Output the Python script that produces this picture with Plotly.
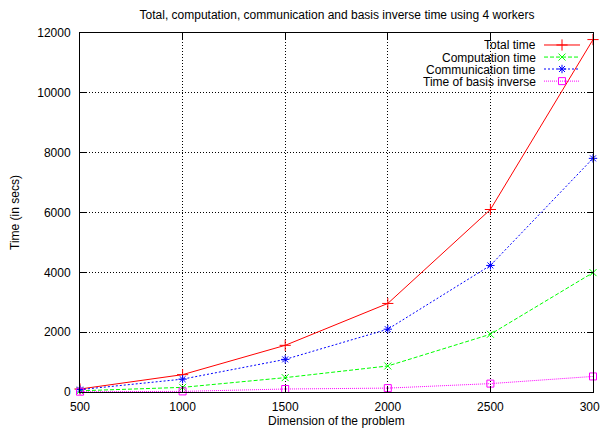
import plotly.graph_objects as go

dims = [500, 1000, 1500, 2000, 2500, 3000]
total_time = [100, 580, 1560, 2960, 6100, 11780]
computation_time = [40, 155, 480, 870, 1930, 3990]
communication_time = [80, 430, 1090, 2100, 4230, 7810]
basis_inverse_time = [10, 20, 100, 130, 280, 520]
y_ticks = [0, 2000, 4000, 6000, 8000, 10000, 12000]
y_tick_labels = ["0", "2000", "4000", "6000", "8000", "10000", "12000"]

names = ["Total time", "Computation time", "Communication time", "Time of basis inverse"]
colors = ["#ff0000", "#00ff00", "#0000ff", "#ff00ff"]
dashes = ["solid", "4px,2px", "2px,2px", "1px,1px"]
symbols = ["cross-thin", "x-thin", "asterisk-open", "square-open"]
sizes = [8, 7, 7, 7]
series = [total_time, computation_time, communication_time, basis_inverse_time]

FONT = "Liberation Sans, Arial, Helvetica, sans-serif"

fig = go.Figure()
for name, ys, c, d, s, sz in zip(names, series, colors, dashes, symbols, sizes):
    fig.add_trace(go.Scatter(
        x=dims, y=ys, mode="lines+markers", name=name,
        line=dict(color=c, width=1, dash=d),
        marker=dict(symbol=s, size=sz, color=c, line=dict(color=c, width=1)),
        cliponaxis=False, showlegend=False,
    ))

# gnuplot-style key (text left of sample) on an overlay axis in plot-fraction units
key_rows = [0.9666, 0.9330, 0.8997, 0.8660]
for name, c, d, s, sz, ky in zip(names, colors, dashes, symbols, sizes, key_rows):
    fig.add_trace(go.Scatter(
        x=[0.9045, 0.9747], y=[ky, ky], mode="lines", xaxis="x2", yaxis="y2",
        line=dict(color=c, width=1, dash=d), showlegend=False, hoverinfo="skip",
    ))
    fig.add_trace(go.Scatter(
        x=[0.9396], y=[ky], mode="markers", xaxis="x2", yaxis="y2",
        marker=dict(symbol=s, size=sz, color=c, line=dict(color=c, width=1)),
        showlegend=False, hoverinfo="skip",
    ))
    fig.add_annotation(x=0.891, y=ky, xref="x2", yref="y2", text=name,
                       showarrow=False, xanchor="right", yanchor="middle",
                       height=11, borderpad=0,
                       font=dict(family=FONT, size=12, color="black"))

# x-axis title placed as an annotation just under the tick labels
fig.add_annotation(x=0.5, y=-0.082, xref="paper", yref="paper",
                   text="Dimension of the problem", showarrow=False,
                   xanchor="center", yanchor="middle", borderpad=0,
                   font=dict(family=FONT, size=12, color="black"))

axis_common = dict(
    showline=True, linecolor="black", linewidth=1, mirror="ticks",
    ticks="inside", ticklen=6, tickcolor="black", tickwidth=1,
    showgrid=True, gridcolor="black", gridwidth=1, griddash="1px,2px",
    zeroline=False, automargin=False,
    tickfont=dict(family=FONT, size=12, color="black"),
)

fig.update_layout(
    width=608, height=428,
    margin=dict(l=72, r=23, t=25, b=44),
    paper_bgcolor="white", plot_bgcolor="white",
    title=dict(text="Total, computation, communication and basis inverse time using 4 workers",
               x=329 / 608, xanchor="center", y=1 - 7 / 428, yanchor="middle",
               font=dict(family=FONT, size=12, color="black")),
    xaxis=dict(range=[500, 3000], tickvals=dims, ticklabelstandoff=4,
               **axis_common),
    yaxis=dict(range=[0, 12000], tickvals=y_ticks, ticktext=y_tick_labels,
               ticklabelstandoff=6,
               title=dict(text="Time (in secs)", standoff=16,
                          font=dict(family=FONT, size=12, color="black")),
               **axis_common),
    xaxis2=dict(range=[0, 1], overlaying="x", visible=False, fixedrange=True),
    yaxis2=dict(range=[0, 1], overlaying="y", visible=False, fixedrange=True),
    showlegend=False,
)

fig.write_html("out.html")
